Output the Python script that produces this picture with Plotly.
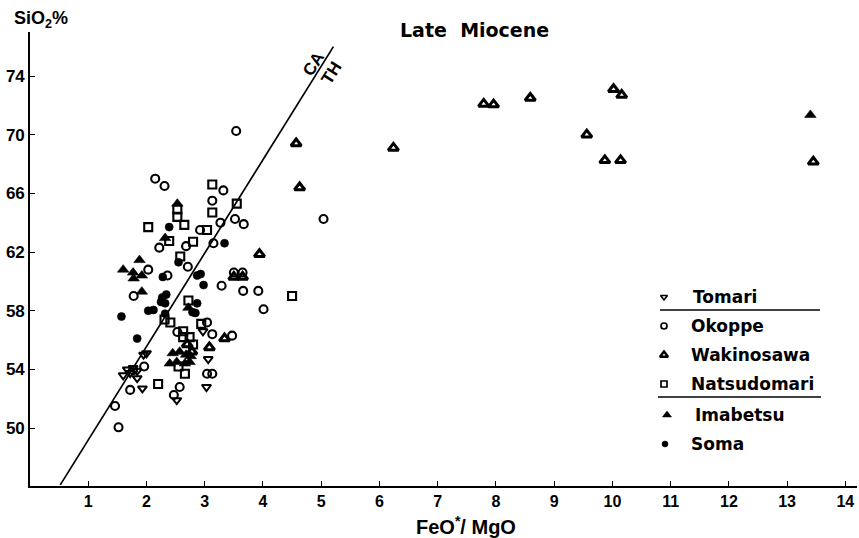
import plotly.graph_objects as go

# ---------------- data ----------------
tomari_x = [2.00, 1.95, 1.67, 1.77, 1.84, 1.60, 1.72, 1.84, 1.93, 2.52, 3.03, 3.06, 2.97]
tomari_y = [55.1, 55.0, 54.0, 54.1, 53.9, 53.6, 53.75, 53.4, 52.7, 51.9, 52.8, 54.7, 56.6]

okoppe_x = [2.15, 2.31, 3.32, 3.13, 3.27, 3.52, 3.67, 2.92, 2.68, 3.15, 2.22, 2.71, 2.03, 2.36,
            3.50, 3.65, 3.29, 3.66, 3.92, 1.78, 3.04, 3.13, 2.53, 3.47, 1.96, 1.77, 1.72, 2.57,
            2.47, 3.04, 3.13, 1.46, 1.52, 5.04, 4.01, 3.54]
okoppe_y = [67.0, 66.5, 66.2, 65.5, 64.0, 64.25, 63.9, 63.5, 62.4, 62.6, 62.3, 61.0, 60.8, 60.4,
            60.6, 60.6, 59.7, 59.35, 59.35, 59.0, 57.2, 56.4, 56.55, 56.3, 54.2, 53.95, 52.6, 52.8,
            52.25, 53.7, 53.7, 51.5, 50.05, 64.25, 58.1, 70.25]

wakinosawa_x = [3.94, 3.50, 3.65, 3.34, 3.08, 2.70, 2.78, 4.57, 4.63, 6.24, 7.79, 7.96, 8.59,
                10.02, 10.16, 9.56, 9.87, 10.14, 13.45]
wakinosawa_y = [61.85, 60.3, 60.3, 56.1, 55.5, 55.7, 55.2, 69.4, 66.4, 69.1, 72.1, 72.05, 72.5,
                73.1, 72.7, 70.0, 68.25, 68.25, 68.15]

natsudomari_x = [3.13, 2.53, 2.53, 3.13, 3.55, 2.03, 2.65, 3.04, 2.39, 2.80, 2.58, 2.72, 2.31,
                 2.41, 2.94, 2.63, 2.63, 2.74, 2.80, 2.55, 2.66, 2.20, 4.50]
natsudomari_y = [66.6, 64.9, 64.4, 64.7, 65.3, 63.7, 63.85, 63.5, 62.75, 62.7, 61.7, 58.7, 57.4,
                 57.2, 57.1, 56.6, 56.2, 56.2, 55.7, 54.2, 53.7, 53.0, 59.0]

imabetsu_x = [2.53, 2.32, 1.88, 1.60, 1.77, 1.92, 1.78, 1.92, 2.72, 2.45, 2.57, 2.68, 2.76,
              2.40, 2.52, 2.66, 2.74, 13.40]
imabetsu_y = [65.3, 62.95, 61.45, 60.8, 60.6, 60.4, 60.2, 59.3, 58.2, 55.1, 55.2, 55.0, 54.9,
              54.4, 54.5, 54.4, 54.5, 71.35]

soma_x = [2.39, 3.34, 2.55, 2.28, 2.87, 2.93, 2.98, 2.34, 2.27, 2.25, 2.32, 2.87, 2.79, 2.84,
          1.57, 2.03, 2.12, 2.32, 1.84]
soma_y = [63.7, 62.6, 61.3, 60.3, 60.4, 60.5, 59.75, 59.1, 58.9, 58.6, 58.5, 58.5, 57.9, 57.85,
          57.6, 58.0, 58.05, 57.8, 56.1]

# CA / TH dividing line (Miyashiro)
divider_x = [0.52, 5.21]
divider_y = [46.13, 76.0]

x_ticks = list(range(1, 15))
y_ticks = [50, 54, 58, 62, 66, 70, 74]

series_names = ["Tomari", "Okoppe", "Wakinosawa", "Natsudomari", "Imabetsu", "Soma"]

# ---------------- layout helpers ----------------
W, H = 859, 538
ML, MR, MT, MB = 30, 2, 32, 52
PW = W - ML - MR
PH = H - MT - MB


def px(x):
    return (x - ML) / PW


def py(y):
    return (H - MB - y) / PH


BOLD = "Liberation Sans, Arial, sans-serif"
NARROW = "Liberation Sans Narrow, Arial Narrow, Liberation Sans, sans-serif"
WIDE = "DejaVu Sans, Verdana, sans-serif"

styles = {
    "Tomari": dict(symbol="triangle-down-open", size=8, line=dict(width=2.0, color="black")),
    "Okoppe": dict(symbol="circle-open", size=8, line=dict(width=2.1, color="black")),
    "Wakinosawa": dict(symbol="triangle-up-open", size=9, line=dict(width=3.0, color="black")),
    "Natsudomari": dict(symbol="square-open", size=8, line=dict(width=2.1, color="black")),
    "Imabetsu": dict(symbol="triangle-up", size=10, line=dict(width=0.6, color="black")),
    "Soma": dict(symbol="circle", size=8, line=dict(width=0.6, color="black")),
}
data = {
    "Tomari": (tomari_x, tomari_y),
    "Okoppe": (okoppe_x, okoppe_y),
    "Wakinosawa": (wakinosawa_x, wakinosawa_y),
    "Natsudomari": (natsudomari_x, natsudomari_y),
    "Imabetsu": (imabetsu_x, imabetsu_y),
    "Soma": (soma_x, soma_y),
}

fig = go.Figure()

fig.add_trace(go.Scatter(x=divider_x, y=divider_y, mode="lines",
                         line=dict(color="black", width=1.7), hoverinfo="skip"))

for name in series_names:
    xs, ys = data[name]
    st = styles[name]
    fig.add_trace(go.Scatter(
        x=xs, y=ys, mode="markers", name=name,
        marker=dict(symbol=st["symbol"], size=st["size"], color="black", line=st["line"]),
        cliponaxis=False,
    ))

# ---------------- custom legend (pixel-space overlay axes) ----------------
legend_rows = [
    ("Tomari", 664, 297, 691),
    ("Okoppe", 664, 326, 689),
    ("Wakinosawa", 664, 355, 689),
    ("Natsudomari", 664, 384, 689),
    ("Imabetsu", 667, 415, 693),
    ("Soma", 665, 444, 689),
]
for name, mx, my, tx in legend_rows:
    st = styles[name]
    fig.add_trace(go.Scatter(
        x=[mx], y=[my], xaxis="x2", yaxis="y2", mode="markers", showlegend=False,
        marker=dict(symbol=st["symbol"], size=st["size"] - 2, color="black",
                    line=dict(width=st["line"]["width"] * 0.8, color="black")),
        cliponaxis=False, hoverinfo="skip",
    ))
    fig.add_annotation(x=px(tx), y=py(my), xref="paper", yref="paper", text=name,
                       showarrow=False, xanchor="left", yanchor="middle",
                       font=dict(family=WIDE, size=17, color="black", weight="bold"))

for y0, xa, xb in [(310, 660, 820), (397, 658, 821)]:
    fig.add_shape(type="line", xref="paper", yref="paper", x0=px(xa), x1=px(xb),
                  y0=py(y0), y1=py(y0), line=dict(color="black", width=1.5))

# ---------------- text ----------------
fig.add_annotation(x=px(474), y=py(30), xref="paper", yref="paper", text="Late  Miocene",
                   showarrow=False, xanchor="center", yanchor="middle",
                   font=dict(family=WIDE, size=19, color="black", weight="bold"))
fig.add_annotation(x=px(12), y=py(19), xref="paper", yref="paper", text="SiO<sub>2</sub>%",
                   showarrow=False, xanchor="left", yanchor="middle",
                   font=dict(family=BOLD, size=18, color="black", weight="bold"))
fig.add_annotation(x=px(466), y=py(525), xref="paper", yref="paper", text="FeO<sup>*</sup>/ MgO",
                   showarrow=False, xanchor="center", yanchor="middle",
                   font=dict(family=NARROW, size=20, color="black", weight="bold"))
fig.add_annotation(x=px(313), y=py(64), xref="paper", yref="paper", text="CA",
                   showarrow=False, textangle=-58, xanchor="center", yanchor="middle",
                   font=dict(family=BOLD, size=17, color="black", weight="bold"))
fig.add_annotation(x=px(331), y=py(73), xref="paper", yref="paper", text="TH",
                   showarrow=False, textangle=-58, xanchor="center", yanchor="middle",
                   font=dict(family=BOLD, size=17, color="black", weight="bold"))

fig.update_layout(
    width=W, height=H, margin=dict(l=ML, r=MR, t=MT, b=MB, pad=0),
    plot_bgcolor="white", paper_bgcolor="white", showlegend=False,
    xaxis=dict(range=[0, 14.2], tickvals=x_ticks, ticks="inside", ticklen=5, tickwidth=1.2,
               tickcolor="black", showline=True, linecolor="black", linewidth=1.6,
               showgrid=False, zeroline=False,
               tickfont=dict(family=NARROW, size=16, color="black", weight="bold")),
    yaxis=dict(range=[46.05, 77.0], tickvals=y_ticks, ticks="inside", ticklen=5, tickwidth=1.2,
               tickcolor="black", showline=True, linecolor="black", linewidth=1.6,
               showgrid=False, zeroline=False,
               tickfont=dict(family=BOLD, size=17, color="black", weight="bold")),
    xaxis2=dict(overlaying="x", range=[ML, W - MR], visible=False),
    yaxis2=dict(overlaying="y", range=[H - MB, MT], visible=False),
)

fig.write_html("out.html")
